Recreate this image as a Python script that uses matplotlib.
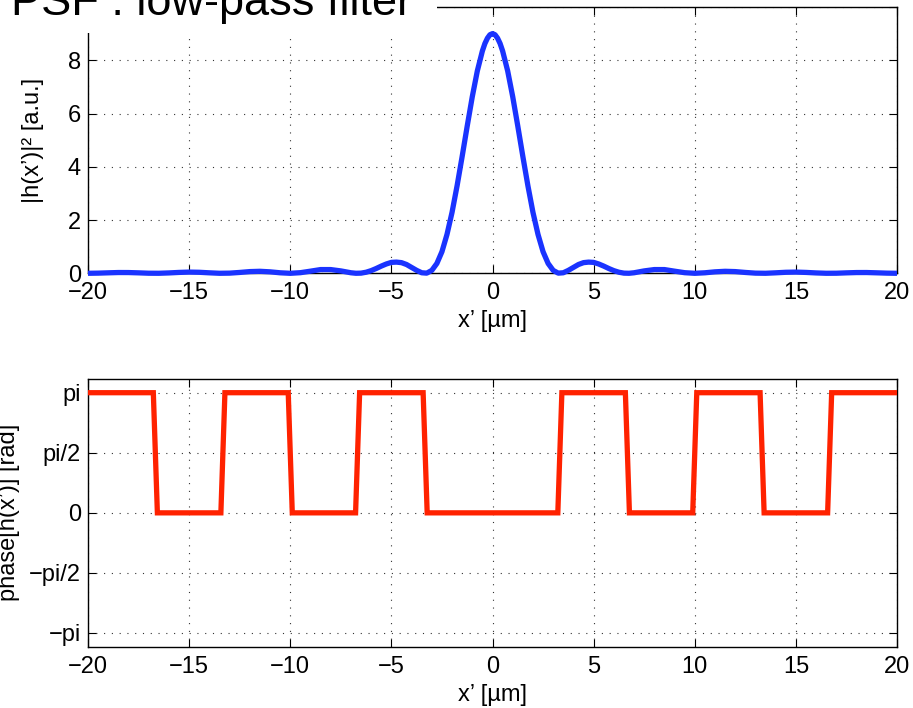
import numpy as np
import matplotlib
matplotlib.use("Agg")
import matplotlib.pyplot as plt
from matplotlib.patches import Rectangle

plt.rcParams['font.family'] = ['Liberation Sans', 'DejaVu Sans']

# Point-spread function intensity |h(x')|^2 [a.u.] sampled along x' [um]
x_um = [-20, -19.5, -19, -18.5, -18, -17.5, -17, -16.5, -16, -15.5, -15, -14.5,
        -14, -13.5, -13, -12.5, -12, -11.5, -11, -10.5, -10, -9.5, -9, -8.5,
        -8, -7.5, -7, -6.75, -6.5, -6.25, -6, -5.75, -5.5, -5.25, -5, -4.75,
        -4.5, -4.25, -4, -3.75, -3.5, -3.25, -3, -2.75, -2.5, -2.25, -2, -1.75,
        -1.5, -1.25, -1, -0.75, -0.5, -0.375, -0.25, -0.125, 0, 0.125, 0.25,
        0.375, 0.5, 0.75, 1, 1.25, 1.5,
        1.75, 2, 2.25, 2.5, 2.75, 3, 3.25, 3.5, 3.75, 4, 4.25, 4.5, 4.75, 5,
        5.25, 5.5, 5.75, 6, 6.25, 6.5, 6.75, 7, 7.5, 8, 8.5, 9, 9.5, 10, 10.5,
        11, 11.5, 12, 12.5, 13, 13.5, 14, 14.5, 15, 15.5, 16, 16.5, 17, 17.5,
        18, 18.5, 19, 19.5, 20]
intensity = [0.0, 0.006, 0.018, 0.029, 0.028, 0.017, 0.003, 0.001, 0.014, 0.033,
             0.045, 0.038, 0.018, 0.001, 0.006, 0.032, 0.064, 0.075, 0.055, 0.019,
             0.0, 0.023, 0.08, 0.14, 0.14, 0.09, 0.02, 0.001, 0.006, 0.04, 0.10,
             0.18, 0.27, 0.35, 0.41, 0.42, 0.40, 0.33, 0.22, 0.11, 0.02, 0.006,
             0.11, 0.37, 0.81, 1.46, 2.29, 3.29, 4.39, 5.53, 6.63, 7.60, 8.35,
             8.63, 8.83, 8.96, 9.0, 8.96, 8.83, 8.63, 8.35, 7.60, 6.63, 5.53,
             4.39, 3.29, 2.29, 1.46,
             0.81, 0.37, 0.11, 0.006, 0.02, 0.11, 0.22, 0.33, 0.40, 0.42, 0.41,
             0.35, 0.27, 0.18, 0.10, 0.04, 0.006, 0.001, 0.02, 0.09, 0.14, 0.14,
             0.08, 0.023, 0.0, 0.019, 0.055, 0.075, 0.064, 0.032, 0.006, 0.001,
             0.018, 0.038, 0.045, 0.033, 0.014, 0.001, 0.003, 0.017, 0.028,
             0.029, 0.018, 0.006, 0.0]

# Phase of h(x') [rad]: alternates between pi and 0 at each zero of the PSF
phase_x = [-20, -16.77, -16.57, -13.43, -13.23, -10.1, -9.9, -6.77, -6.57,
           -3.43, -3.23, 3.23, 3.43, 6.57, 6.77, 9.9, 10.1, 13.23, 13.43,
           16.57, 16.77, 20]
phase_val = [np.pi, np.pi, 0, 0, np.pi, np.pi, 0, 0, np.pi, np.pi, 0, 0,
             np.pi, np.pi, 0, 0, np.pi, np.pi, 0, 0, np.pi, np.pi]

x_ticks = [-20, -15, -10, -5, 0, 5, 10, 15, 20]
x_ticklabels = ['\u221220', '\u221215', '\u221210', '\u22125', '0', '5', '10', '15', '20']
int_ticks = [0, 2, 4, 6, 8, 10]
int_ticklabels = ['0', '2', '4', '6', '8', '']
phase_ticks = [-np.pi, -np.pi / 2, 0, np.pi / 2, np.pi]
phase_ticklabels = ['\u2212pi', '\u2212pi/2', '0', 'pi/2', 'pi']

W, H = 913, 708
fig = plt.figure(figsize=(W / 100, H / 100), dpi=100)

FS = 17
grid_kw = dict(color='0.2', linestyle=(0, (1, 6)), linewidth=0.8)


def style(ax):
    ax.tick_params(direction='in', length=5.8, width=0.8, top=True, right=True,
                   labelsize=FS, pad=6.5, colors='black')
    ax.tick_params(axis='y', pad=5)
    for sp in ax.spines.values():
        sp.set_linewidth(1.0)
        sp.set_color('black')
    ax.grid(True, **grid_kw)


ax1 = fig.add_axes([88 / W, 1 - 273.3 / H, 809 / W, 266.3 / H])
ax1.plot(x_um, intensity, color='#1a33ff', linewidth=3.8, clip_on=False,
         zorder=3, solid_joinstyle='round', solid_capstyle='butt')
ax1.set_xlim(-20, 20)
ax1.set_ylim(0, 10)
ax1.set_xticks(x_ticks)
ax1.set_xticklabels(x_ticklabels)
ax1.set_yticks(int_ticks)
ax1.set_yticklabels(int_ticklabels)
style(ax1)
ax1.set_xlabel('x\u2019 [\u00b5m]', fontsize=FS)
ax1.set_ylabel('|h(x\u2019)|\u00b2 [a.u.]', fontsize=FS)
ax1.xaxis.set_label_coords(0.5, -0.138)
ax1.yaxis.set_label_coords(-0.055, 0.5)

ax2 = fig.add_axes([88 / W, 1 - 646.7 / H, 809 / W, 267.7 / H])
ax2.plot(phase_x, phase_val, color='#ff2200', linewidth=3.8, zorder=3,
         solid_joinstyle='miter')
ax2.set_xlim(-20, 20)
ax2.set_ylim(-3.5, 3.5)
ax2.set_xticks(x_ticks)
ax2.set_xticklabels(x_ticklabels)
ax2.set_yticks(phase_ticks)
ax2.set_yticklabels(phase_ticklabels)
style(ax2)
ax2.set_xlabel('x\u2019 [\u00b5m]', fontsize=FS)
ax2.set_ylabel('phase[h(x\u2019)] [rad]', fontsize=FS)
ax2.xaxis.set_label_coords(0.5, -0.138)
ax2.yaxis.set_label_coords(-0.084, 0.5)

# Title sits in a white box overlapping the top of the upper panel
fig.add_artist(Rectangle((0, 1 - 33 / H), 437 / W, 40 / H,
                         transform=fig.transFigure, facecolor='white',
                         edgecolor='none', zorder=5))
fig.text(11 / W, 1 - 15 / H, 'PSF : low-pass filter', fontsize=32.5,
         va='baseline', ha='left', zorder=6)

fig.savefig('out.png', dpi=100)
